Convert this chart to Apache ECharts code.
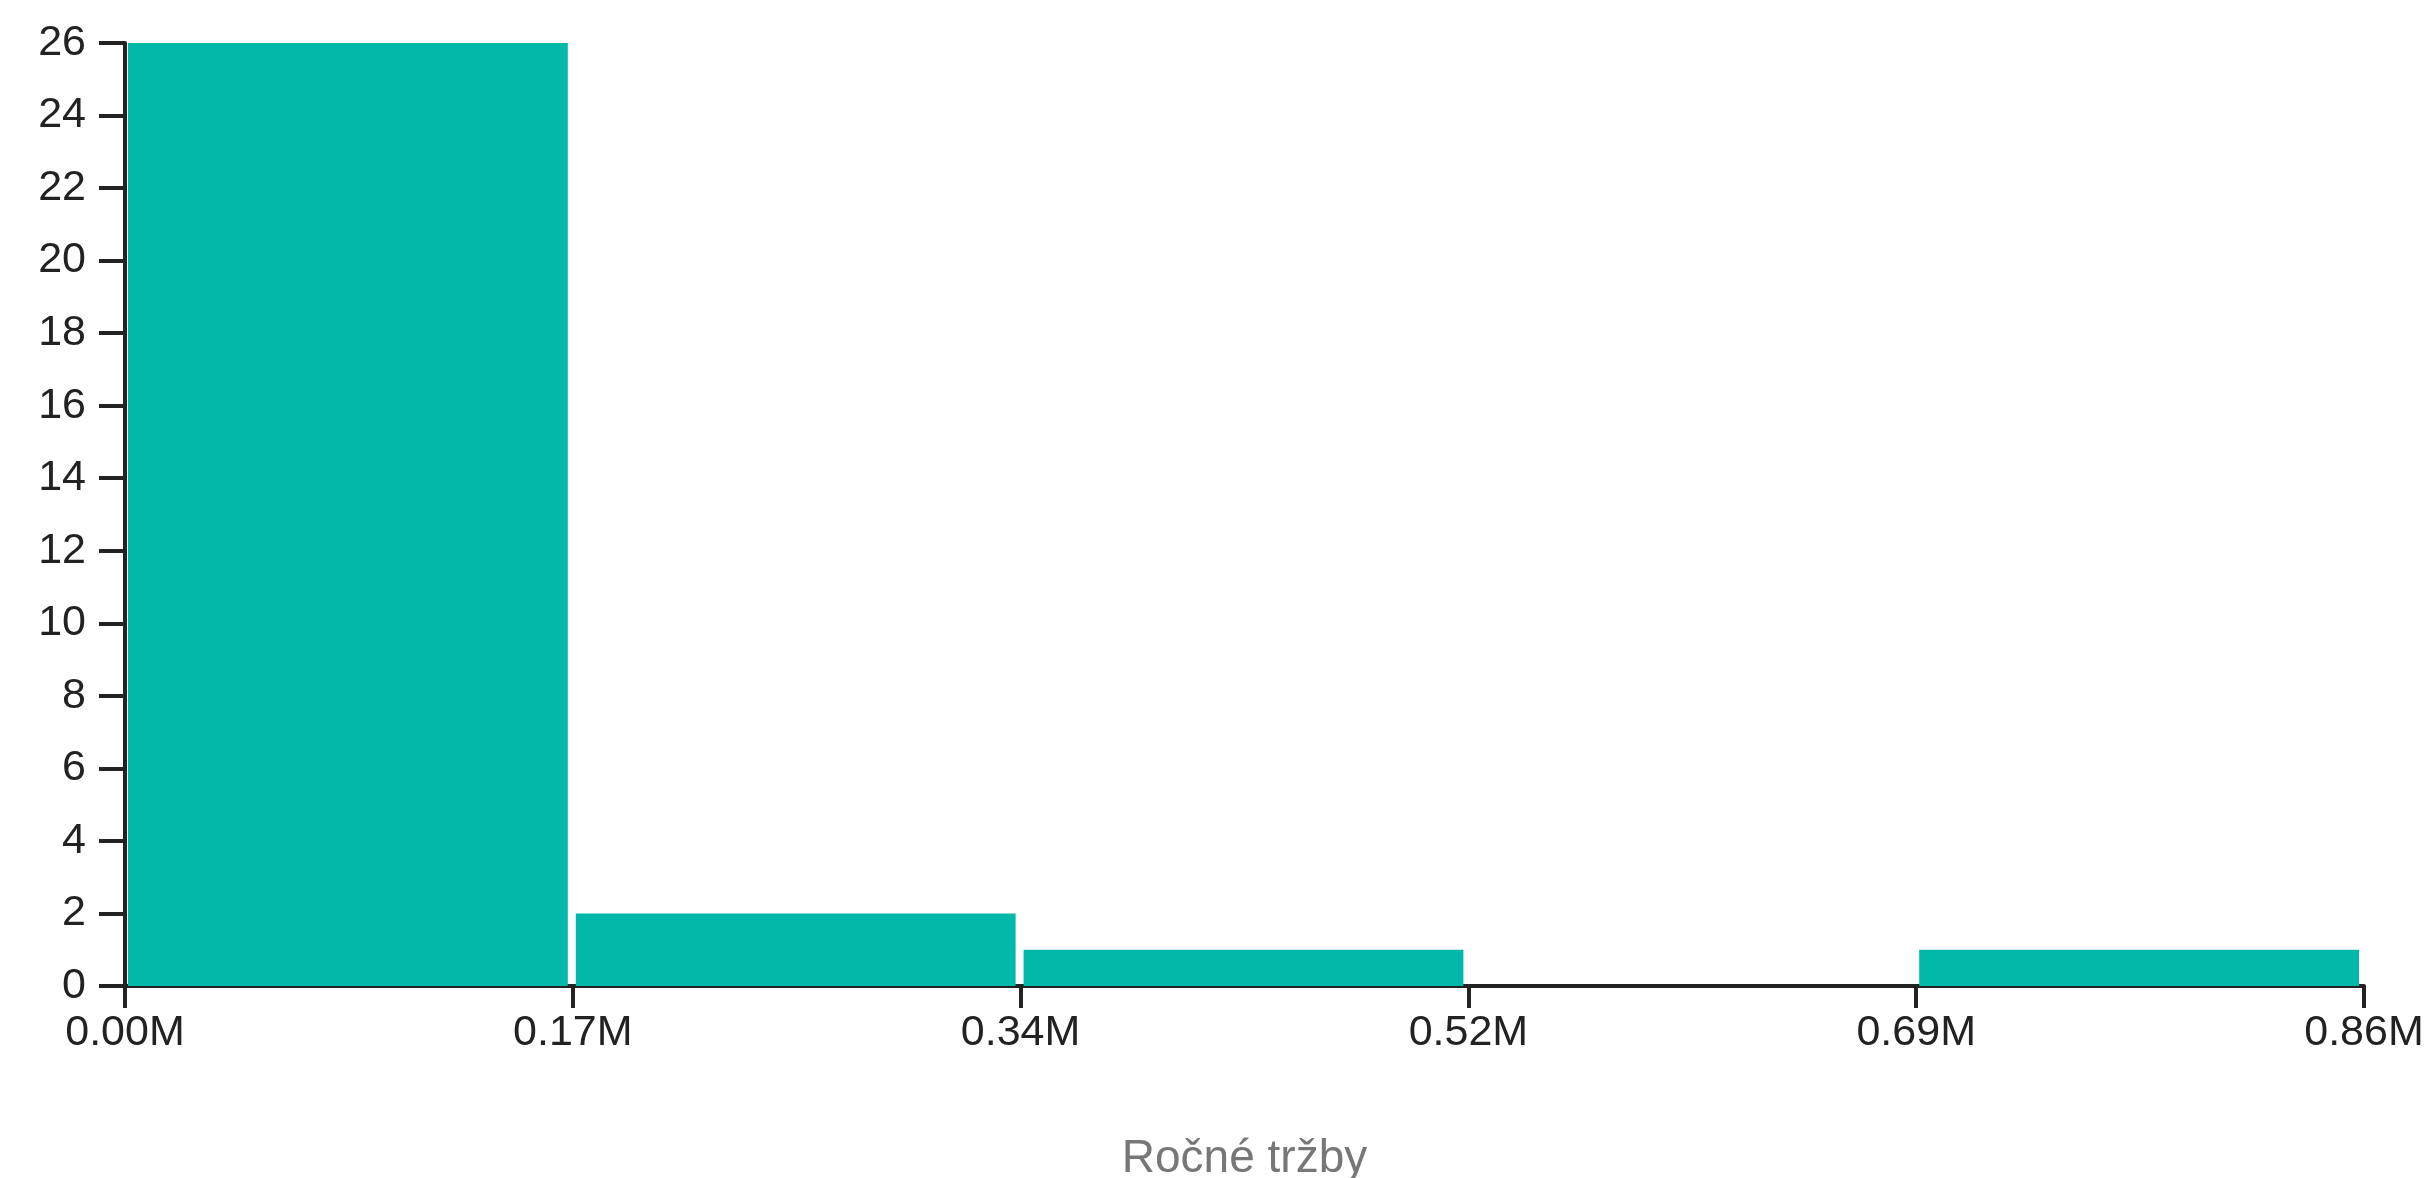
<!DOCTYPE html>
<html>
<head>
<meta charset="utf-8">
<script src="https://cdn.jsdelivr.net/npm/echarts@6/dist/echarts.min.js"></script>
<style>
  html, body { margin: 0; padding: 0; background: #fff; }
  #chart { width: 2432px; height: 1178px; }
</style>
</head>
<body>
<div id="chart"></div>
<script>
// histogram bins (annual revenue) and counts
var binStarts = [0, 172000, 344000, 516000, 688000];
var binEnds = [172000, 344000, 516000, 688000, 860000];
var counts = [26, 2, 1, 0, 1];
var xTicks = ['0.00M', '0.17M', '0.34M', '0.52M', '0.69M', '0.86M'];

var chart = echarts.init(document.getElementById('chart'));

var data = binStarts.map(function (s, i) {
  return [s, binEnds[i], counts[i]];
});

var option = {
  animation: false,
  grid: { left: 125, right: 68, top: 43, bottom: 192, containLabel: false, outerBoundsMode: 'none' },
  xAxis: {
    type: 'value',
    min: 0,
    max: 860000,
    interval: 172000,
    name: 'Ročné tržby',
    nameLocation: 'middle',
    nameGap: 150,
    nameTextStyle: { color: '#777777', fontSize: 46, fontFamily: 'Liberation Sans' },
    axisLine: { show: true, lineStyle: { color: '#222222', width: 4 } },
    axisTick: { show: true, length: 22, lineStyle: { color: '#222222', width: 4 } },
    axisLabel: {
      color: '#222222', fontSize: 43, fontFamily: 'Liberation Sans', margin: 26,
      formatter: function (v) {
        var idx = Math.round(v / 172000);
        return xTicks[idx];
      }
    },
    splitLine: { show: false }
  },
  yAxis: {
    type: 'value',
    min: 0,
    max: 26,
    interval: 2,
    axisLine: { show: true, lineStyle: { color: '#222222', width: 4 } },
    axisTick: { show: true, length: 26, lineStyle: { color: '#222222', width: 4 } },
    axisLabel: { color: '#222222', fontSize: 43, fontFamily: 'Liberation Sans', margin: 39 },
    splitLine: { show: false }
  },
  series: [{
    type: 'custom',
    data: data,
    encode: { x: [0, 1], y: 2 },
    renderItem: function (params, api) {
      var p0 = api.coord([api.value(0), 0]);
      var p1 = api.coord([api.value(1), api.value(2)]);
      var x = p0[0] + 3;
      var w = p1[0] - p0[0] - 8;
      return {
        type: 'rect',
        shape: { x: x, y: p1[1], width: w, height: p0[1] - p1[1] },
        style: { fill: '#01B8AA' }
      };
    }
  }]
};

chart.setOption(option);
</script>
</body>
</html>
